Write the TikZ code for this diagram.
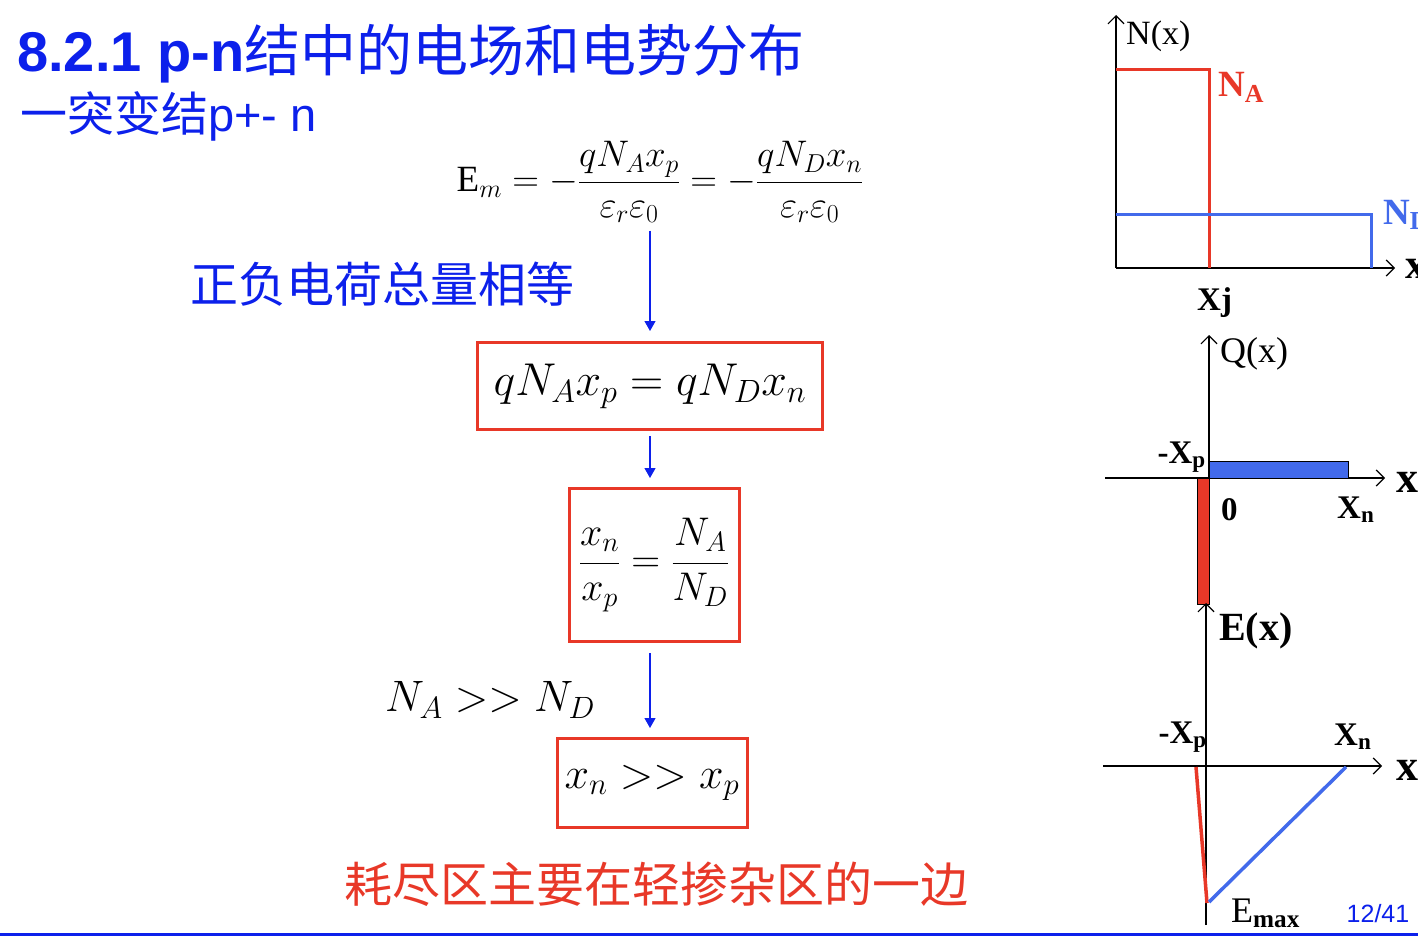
\RequirePackage{fix-cm}
\documentclass[tikz,border=0pt]{standalone}
\usepackage{fontspec}
\setmainfont{Liberation Serif}
\newfontfamily\cjk{Noto Sans CJK SC}
\newfontfamily\arialfont{Liberation Sans}
\usetikzlibrary{arrows.meta, positioning}

\definecolor{titleblue}{RGB}{12,32,235}
\definecolor{boxred}{RGB}{232,56,40}
\definecolor{plotblue}{RGB}{66,106,235}
\newcommand{\fsize}[1]{\fontsize{#1}{#1}\selectfont}

\begin{document}
\begin{tikzpicture}[
  x=1pt, y=-1pt,
  flow/.style={-{Triangle[length=10pt,width=11pt]}, line width=1.2pt, draw=titleblue, fill=titleblue},
  eqbox/.style={draw=boxred, line width=3pt, inner sep=0pt},
  axis/.style={-{Straight Barb[length=8pt,width=16pt]}, line width=1.2pt},
  lbl/.style={inner sep=0pt, font=\bfseries\fsize{33}}
]
  \useasboundingbox (0,0) rectangle (1418,936);

  % heading
  \node[anchor=base west, text=titleblue, inner sep=0pt] (title) at (17,72)
    {\fsize{56}\arialfont\bfseries 8.2.1 p-n{\cjk\mdseries 结中的电场和电势分布}};
  \node[anchor=base west, text=titleblue, inner sep=0pt] (subtitle) at (20,132)
    {\fsize{47}{\cjk 一突变结}\arialfont p+- n};

  % derivation
  \node[inner sep=0pt] (em) at (660,182)
    {\fsize{37}$\displaystyle \mathrm{E}_{m}=-\frac{qN_Ax_p}{\varepsilon_r\varepsilon_0}=-\frac{qN_Dx_n}{\varepsilon_r\varepsilon_0}$};
  \node[text=titleblue, inner sep=0pt] (equal) at (382,284) {\fsize{48}\cjk 正负电荷总量相等};
  \node[eqbox, minimum width=345pt, minimum height=87pt] (box1) at (650,386)
    {\fsize{46}$qN_Ax_p=qN_Dx_n$};
  \node[eqbox, minimum width=170pt, minimum height=153pt] (box2) at (654,565)
    {\fsize{40}$\displaystyle\frac{x_n}{x_p}=\frac{N_A}{N_D}$};
  \node[inner sep=0pt] (cond) at (490,700) {\fsize{44}$N_A>>N_D$};
  \node[eqbox, minimum width=190pt, minimum height=89pt] (box3) at (652,783)
    {\fsize{44}$x_n>>x_p$};
  \node[text=boxred, inner sep=0pt] (concl) at (656,884) {\fsize{48}\cjk 耗尽区主要在轻掺杂区的一边};

  \draw[flow, shorten <=8pt, shorten >=10pt] (em.south -| box1.north) -- (box1.north);
  \draw[flow, shorten <=5pt, shorten >=9pt] (box1.south) -- (box1.south |- box2.north);
  \draw[flow, shorten <=10pt, shorten >=9pt] (box2.south -| box1.south) -- (box1.south |- box3.north);

  % N(x)
  \draw[axis] (1116,268) -- (1116,15);
  \draw[axis] (1116,268) -- (1395,268);
  \draw[boxred, line width=3pt] (1116,70) -- (1209,70) -- (1209,268);
  \draw[plotblue, line width=3pt] (1116,214) -- (1371,214) -- (1371,268);
  \node[anchor=base west, inner sep=0pt, font=\fsize{34}] (nlab) at (1126,45) {N(x)};
  \node[lbl, anchor=base west, text=boxred, font=\bfseries\fsize{37}] (nalab) at (1218,97) {N\textsubscript{A}};
  \node[lbl, anchor=base west, text=plotblue, font=\bfseries\fsize{37}] (ndlab) at (1383,224) {N\textsubscript{D}};
  \node[lbl, anchor=base west, font=\bfseries\fsize{42}] (nx) at (1405,278) {x};
  \node[lbl, anchor=base west] (xj) at (1197,310) {Xj};

  % Q(x)
  \draw[axis] (1105,478) -- (1385,478);
  \draw[axis] (1209,605) -- (1209,335);
  \filldraw[fill=plotblue, draw=black, line width=0.8pt] (1209,461) rectangle (1348,478);
  \filldraw[fill=boxred, draw=black, line width=0.8pt] (1197,478) rectangle (1209,604);
  \node[anchor=base west, inner sep=0pt, font=\fsize{36}] (qlab) at (1220,362) {Q(x)};
  \node[lbl, anchor=base east] (qxp) at (1206,463) {-X\textsubscript{p}};
  \node[lbl, anchor=base west, font=\bfseries\fsize{44}] (qx) at (1396,492) {x};
  \node[lbl, anchor=base west] (qzero) at (1221,520) {0};
  \node[lbl, anchor=base west] (qxn) at (1337,518) {X\textsubscript{n}};

  % E(x)
  \draw[axis] (1103,766) -- (1382,766);
  \draw[axis] (1206,925) -- (1206,603);
  \draw[boxred, line width=3.5pt] (1196,767) -- (1207,903);
  \draw[plotblue, line width=3.5pt] (1209,902) -- (1346,767);
  \node[lbl, anchor=base west, font=\bfseries\fsize{40}] (elab) at (1219,640) {E(x)};
  \node[lbl, anchor=base east] (exp) at (1207,743) {-X\textsubscript{p}};
  \node[lbl, anchor=base west] (exn) at (1334,745) {X\textsubscript{n}};
  \node[lbl, anchor=base west, font=\bfseries\fsize{44}] (ex) at (1396,780) {x};
  \node[lbl, anchor=base west, font=\fsize{36}] (emax) at (1231,922) {E\textsubscript{\bfseries max}};

  % footer
  \node[text=titleblue, inner sep=0pt, font=\arialfont\fsize{25}] (page) at (1378,914) {12/41};
  \draw[titleblue, line width=3pt] (0,934) -- (1418,934);
\end{tikzpicture}
\end{document}
